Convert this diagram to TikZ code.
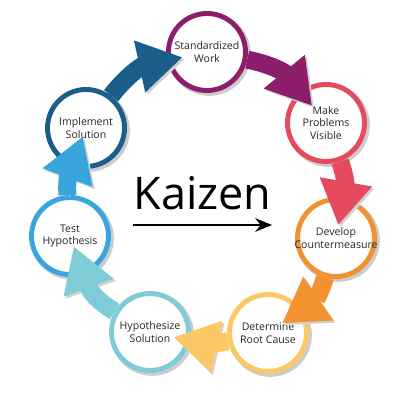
\documentclass[tikz,border=0pt]{standalone}
\usepackage{fontspec}
\setmainfont{Open Sans}
\usetikzlibrary{arrows.meta,shadows}

\definecolor{cpurple}{HTML}{8C1D6B}
\definecolor{cred}{HTML}{E64A5E}
\definecolor{corange}{HTML}{F39230}
\definecolor{cyellow}{HTML}{FCC865}
\definecolor{cteal}{HTML}{7ECCD7}
\definecolor{cblue}{HTML}{38A6DD}
\definecolor{cnavy}{HTML}{1C5E8A}

\begin{document}
\begin{tikzpicture}
\tikzset{stage/.style={circle, fill=white, draw=#1, line width=3.5pt, minimum size=1.925cm,
  inner sep=-4pt, align=center, text=black!85, font=\fontsize{7.5}{9}\selectfont,
  general shadow={shadow scale=1.08, shadow xshift=1.5pt, shadow yshift=-1.5pt, fill=black!20}}}
\tikzset{flow/.style={draw=#1, line width=0.45cm, -{Triangle[width=1.25cm,length=1.1cm]},
  preaction={draw=black!18, transform canvas={xshift=1.5pt,yshift=-1.5pt}}}}
\useasboundingbox (0,0) rectangle (10,10);
\node[stage=cpurple] (sw) at (5.175,8.7)  {Standardized\\Work};
\node[stage=cred]    (mp) at (8.15,6.925) {Make\\Problems\\Visible};
\node[stage=corange] (dc) at (8.4,4.05)   {Develop\\Countermeasure};
\node[stage=cyellow] (dr) at (6.7,1.675)  {Determine\\Root Cause};
\node[stage=cteal]   (hs) at (3.75,1.7)   {Hypothesize\\Solution};
\node[stage=cblue]   (th) at (1.75,4.1)   {Test\\Hypothesis};
\node[stage=cnavy]   (is) at (2.15,6.8)   {Implement\\Solution};
\draw[flow=cpurple, shorten >=-0.47cm] (sw) to[bend left=20] (mp);
\draw[flow=cred,    shorten >=-0.7cm]  (mp) to[bend left=15] (dc);
\draw[flow=corange, shorten >=-0.6cm]  (dc) to[bend left=20] (dr);
\draw[flow=cyellow, shorten >=-0.42cm] (dr) to[bend left=12] (hs);
\draw[flow=cteal,   shorten >=-0.75cm] (hs) to[bend left=20] (th);
\draw[flow=cblue,   shorten >=-0.8cm]  (th) to[bend left=12] (is);
\draw[flow=cnavy,   shorten >=-0.4cm]  (is) to[bend left=20] (sw);
% title with its arrow
\node[font=\fontsize{32}{38}\selectfont, anchor=base] (title) at (5.06,4.75) {Kaizen};
\coordinate (ka) at (3.33,4.375);
\coordinate (kb) at (6.8,4.375);
\draw[line width=0.9pt, -{Stealth[length=0.42cm,width=0.34cm]}] (ka) -- (kb);
\end{tikzpicture}
\end{document}
